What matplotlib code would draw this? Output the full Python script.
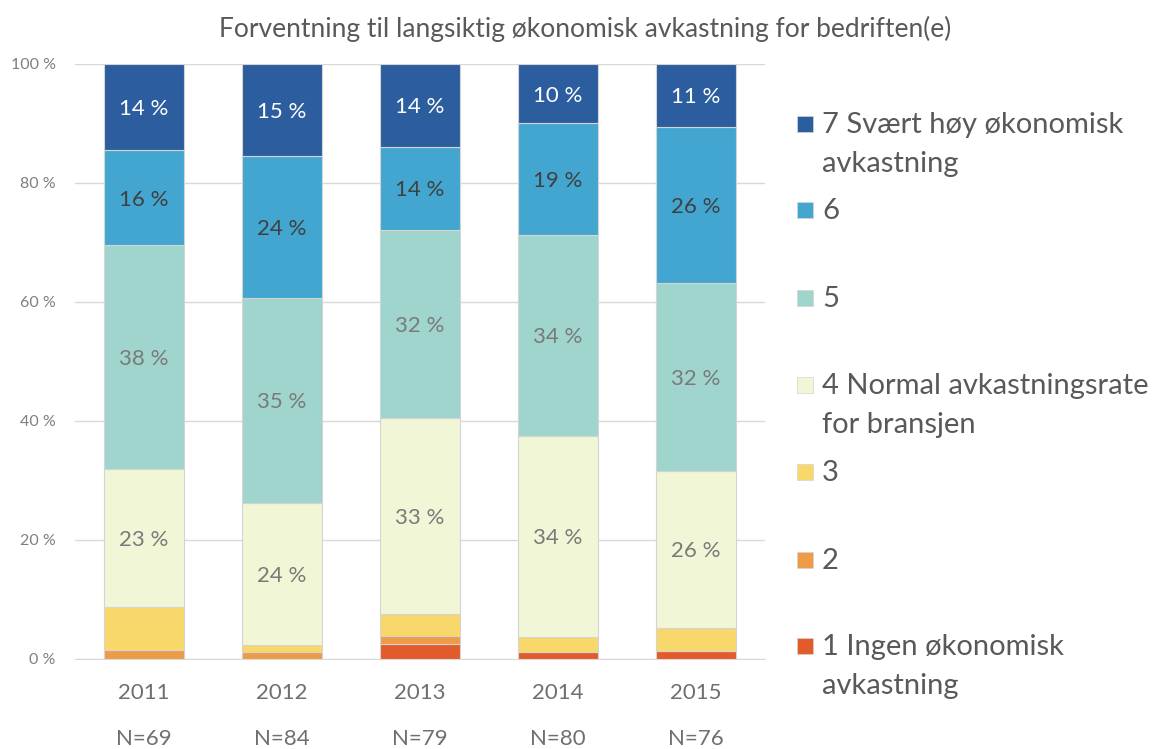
import matplotlib.pyplot as plt
from matplotlib.patches import Rectangle
import numpy as np

plt.rcParams['font.family'] = ['Lato', 'DejaVu Sans']

# antall svar per kategori (1..7) per år
years = ['2011', '2012', '2013', '2014', '2015']
n_tot = [69, 84, 79, 80, 76]
c1 = [0, 0, 2, 1, 1]
c2 = [1, 1, 1, 0, 0]
c3 = [5, 1, 3, 2, 3]
c4 = [16, 20, 26, 27, 20]
c5 = [26, 29, 25, 27, 24]
c6 = [11, 20, 11, 15, 20]
c7 = [10, 13, 11, 8, 8]

labels = ['1 Ingen økonomisk\navkastning', '2', '3',
          '4 Normal avkastningsrate\nfor bransjen', '5', '6',
          '7 Svært høy økonomisk\navkastning']
colors = ['#E25B2A', '#EE9B48', '#F9D86B', '#F1F6D6', '#9FD5CD', '#42A6D0', '#2C5E9F']
txt_colors = [None, None, None, '#7a7a7a', '#7a7a7a', '#404040', '#ffffff']

counts = np.array([c1, c2, c3, c4, c5, c6, c7], dtype=float)
pct = counts / np.array(n_tot)

fig = plt.figure(figsize=(11.63, 7.49), dpi=100)
ax = fig.add_axes([0.0645, 0.1202, 0.5933, 0.7944])

x = np.arange(len(years))
bottom = np.zeros(len(years))
for i in range(7):
    ax.bar(x, pct[i], bottom=bottom, width=0.58, color=colors[i],
           edgecolor='#d4d4d4', linewidth=0.8, zorder=3)
    if txt_colors[i] is not None:
        for j in range(len(years)):
            ax.text(x[j], bottom[j] + pct[i][j] / 2, '%d %%' % round(pct[i][j] * 100),
                    ha='center', va='center_baseline', fontsize=16, color=txt_colors[i], zorder=4)
    bottom += pct[i]

ax.set_xlim(-0.5, 4.5)
ax.set_ylim(0, 1)
ax.set_yticks(np.arange(0, 1.01, 0.2))
ax.set_yticklabels(['%d %%' % v for v in range(0, 101, 20)], fontsize=11.5, color='#7f7f7f')
ax.set_xticks(x)
ax.set_xticklabels(['%s\n\nN=%d' % (y, n) for y, n in zip(years, n_tot)],
                   fontsize=16, color='#6f6f6f', va='top', linespacing=1.2)
ax.tick_params(axis='y', length=0, pad=14)
ax.tick_params(axis='x', length=0, pad=17)
ax.grid(axis='y', color='#d9d9d9', linewidth=1, zorder=0)
for s in ['top', 'right', 'left']:
    ax.spines[s].set_visible(False)
ax.spines['bottom'].set_color('#d9d9d9')

fig.text(0.503, 0.962, 'Forventning til langsiktig økonomisk avkastning for bedriften(e)',
         ha='center', va='center', fontsize=19, color='#595959')

# legende, høyeste kategori øverst
leg_y = [124, 210, 298, 385, 472, 560, 646]
for k, i in enumerate(range(6, -1, -1)):
    yy = 1 - leg_y[k] / 749
    fig.patches.append(Rectangle((797 / 1163, yy - 8 / 749), 16 / 1163, 16 / 749,
                                 transform=fig.transFigure, facecolor=colors[i],
                                 edgecolor='#d4d4d4', linewidth=0.5))
    fig.text(822 / 1163, yy + 12 / 749, labels[i], ha='left', va='top',
             fontsize=21, color='#595959', linespacing=1.6)

fig.savefig('out.png', dpi=100)
